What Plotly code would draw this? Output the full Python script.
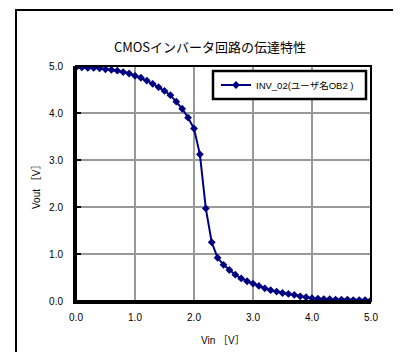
import plotly.graph_objects as go

vin = [0.0, 0.1, 0.2, 0.3, 0.4, 0.5, 0.6, 0.7, 0.8, 0.9,
       1.0, 1.1, 1.2, 1.3, 1.4, 1.5, 1.6, 1.7, 1.8, 1.9,
       2.0, 2.1, 2.2, 2.3, 2.4, 2.5, 2.6, 2.7, 2.8, 2.9,
       3.0, 3.1, 3.2, 3.3, 3.4, 3.5, 3.6, 3.7, 3.8, 3.9,
       4.0, 4.1, 4.2, 4.3, 4.4, 4.5, 4.6, 4.7, 4.8, 4.9, 5.0]
vout = [4.97, 4.97, 4.96, 4.96, 4.95, 4.93, 4.92, 4.90, 4.87, 4.84,
        4.79, 4.75, 4.69, 4.62, 4.55, 4.47, 4.38, 4.24, 4.09, 3.90,
        3.67, 3.12, 1.97, 1.25, 0.92, 0.77, 0.66, 0.56, 0.48, 0.42,
        0.37, 0.32, 0.27, 0.23, 0.20, 0.17, 0.15, 0.13, 0.10, 0.08,
        0.06, 0.05, 0.04, 0.04, 0.03, 0.03, 0.03, 0.02, 0.02, 0.02, 0.02]
series_name = "INV_02(ユーザ名OB2 )"
title_text = "CMOSインバータ回路の伝達特性"
x_title = "Vin ［V］"
y_title = "Vout ［V］"
tick_vals = [0, 1, 2, 3, 4, 5]
tick_text = ["0.0", "1.0", "2.0", "3.0", "4.0", "5.0"]

FONT = "Liberation Sans, Noto Sans CJK JP, sans-serif"
NAVY = "#000080"

fig = go.Figure()
fig.add_trace(go.Scatter(
    x=vin, y=vout, mode="lines+markers", name=series_name,
    line=dict(color=NAVY, width=2),
    marker=dict(symbol="diamond", size=6, color=NAVY),
))

# page-pixel layout targets (the page body has an 8px margin)
OFF = 8
W, H = 401, 352
PL, PR, PT, PB = 76, 371, 66, 301          # plot area in page pixels
L, T = PL - OFF, PT - OFF
R, B = W - (PR - OFF), H - (PB - OFF)
pw, ph = PR - PL, PB - PT

def px(x):
    return (x - PL) / pw

def py(y):
    return (PB - y) / ph

shapes = [
    # outer chart frame (extends past the right and bottom edges)
    dict(type="rect", xref="paper", yref="paper",
         x0=px(16), x1=px(420), y0=py(10), y1=py(380),
         line=dict(color="black", width=2), layer="above"),
    # plot border (top/right)
    dict(type="rect", xref="paper", yref="paper",
         x0=0, x1=1, y0=0, y1=1,
         line=dict(color="black", width=2), layer="above"),
    # legend box
    dict(type="rect", xref="paper", yref="paper",
         x0=px(213), x1=px(366), y0=py(71), y1=py(99),
         line=dict(color="black", width=2.5), fillcolor="white", layer="above"),
]

annotations = [
    dict(text=x_title, xref="paper", yref="paper", x=px(223), y=py(340),
         xanchor="center", yanchor="middle", showarrow=False,
         font=dict(family=FONT, size=10, color="black")),
    dict(text=y_title, xref="paper", yref="paper", x=px(36), y=py(185),
         xanchor="center", yanchor="middle", showarrow=False, textangle=-90,
         font=dict(family=FONT, size=10, color="black")),
]

fig.update_layout(
    width=W, height=H,
    margin=dict(l=L, r=R, t=T, b=B, autoexpand=False),
    paper_bgcolor="white", plot_bgcolor="white",
    font=dict(family=FONT, size=10, color="black"),
    title=dict(text=title_text, x=(210 - OFF) / W, xanchor="center",
               y=1 - (47 - OFF) / H, yanchor="middle",
               font=dict(family="Noto Sans CJK JP, sans-serif", size=13, color="black")),
    showlegend=True,
    legend=dict(x=px(216), y=py(85), xanchor="left", yanchor="middle",
                bgcolor="rgba(0,0,0,0)", borderwidth=0,
                font=dict(family=FONT, size=9.5, color="black"),
                itemwidth=30),
    shapes=shapes,
    annotations=annotations,
)
fig.update_xaxes(
    range=[0, 5], tickvals=tick_vals, ticktext=tick_text,
    showgrid=True, gridcolor="#999999", gridwidth=1.5,
    showline=True, linecolor="black", linewidth=3,
    ticks="", zeroline=False, automargin=False, ticklabelstandoff=5,
    tickfont=dict(family=FONT, size=10, color="black"),
)
fig.update_yaxes(
    range=[0, 5], tickvals=tick_vals, ticktext=tick_text,
    showgrid=True, gridcolor="#999999", gridwidth=1.5,
    showline=True, linecolor="black", linewidth=3,
    ticks="inside", ticklen=5, tickwidth=2, tickcolor="black",
    zeroline=False, automargin=False, ticklabelstandoff=8,
    tickfont=dict(family=FONT, size=10, color="black"),
)
fig.write_html("out.html")
